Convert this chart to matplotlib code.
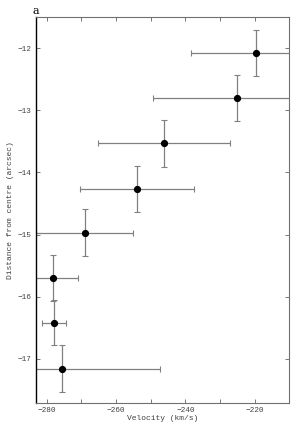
import numpy as np
from matplotlib import pyplot as plt

# velocity (km/s), distance from centre (arcsec) and their errors
velocity = [-219.5, -225.1, -246.1, -254.0, -269.0, -278.1, -277.8, -275.7]
vel_err = [18.8, 24.3, 19.0, 16.5, 14.0, 7.0, 3.5, 28.4]
distance = [-12.08, -12.80, -13.53, -14.26, -14.97, -15.70, -16.42, -17.16]
dist_err = [0.37, 0.37, 0.38, 0.37, 0.38, 0.37, 0.36, 0.38]

xticks = [-280, -260, -240, -220]
yticks = [-12, -13, -14, -15, -16, -17]


def main():
    plt.rcParams['font.family'] = ['Liberation Mono', 'DejaVu Sans Mono']

    fig = plt.figure(figsize=(3.02, 4.24), dpi=100)
    ax = fig.add_axes([0.119, 0.0495, 0.838, 0.9105])

    ax.errorbar(velocity, distance, xerr=vel_err, yerr=dist_err, fmt='o',
                color='black', ms=4.2, ecolor='#808080', elinewidth=0.9,
                capsize=2.2, capthick=0.8)

    ax.set_xlim(-283.1, -210.1)
    ax.set_ylim(-17.71, -11.5)
    ax.set_xticks(xticks)
    ax.set_xticklabels([str(v).replace('-', '\u2212') for v in xticks])
    ax.set_xticks(np.arange(-280, -210, 10), minor=True)
    ax.set_yticks(yticks)
    ax.set_yticklabels([str(v).replace('-', '\u2212') for v in yticks])

    ax.tick_params(direction='in', which='both', top=True, right=True,
                   length=3, width=0.6, color='#606060', labelsize=5.6,
                   labelcolor='#404040', pad=3)
    ax.tick_params(which='minor', length=3)

    for s in ['top', 'right', 'bottom']:
        ax.spines[s].set_color('#707070')
        ax.spines[s].set_linewidth(0.8)
    ax.spines['left'].set_color('black')
    ax.spines['left'].set_linewidth(1.0)

    ax.set_xlabel('Velocity (km/s)', fontsize=5.8, color='#404040', labelpad=0.5)
    ax.set_ylabel('Distance from centre (arcsec)', fontsize=5.8, color='#404040', labelpad=3)

    fig.text(0.118, 0.985, 'a', fontsize=8, family='DejaVu Serif', va='top', ha='center')

    fig.savefig('out.png', dpi=100)


if __name__ == '__main__':
    main()
